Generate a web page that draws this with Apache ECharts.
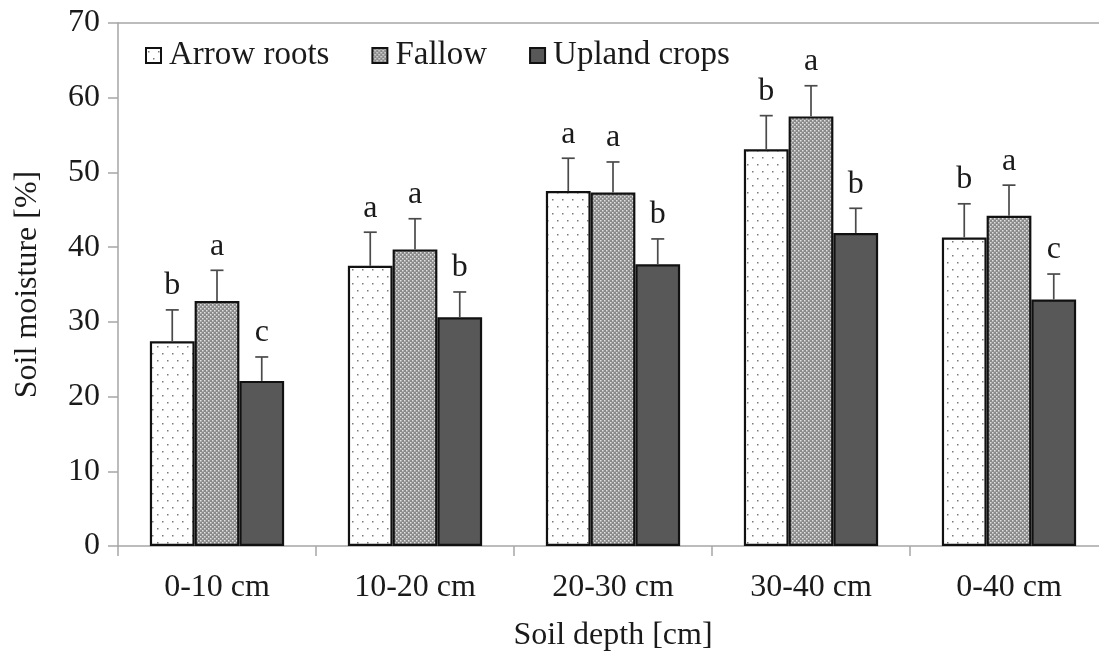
<!DOCTYPE html>
<html>
<head>
<meta charset="utf-8">
<script src="https://cdn.jsdelivr.net/npm/echarts@6/dist/echarts.min.js"></script>
<style>
  html, body { margin: 0; padding: 0; background: #ffffff; }
  #chart { width: 1099px; height: 651px; }
</style>
</head>
<body>
<div id="chart"></div>
<script>
// Soil moisture by depth under three land uses (mean + SD, letters = significance groups)
const categories = ['0-10 cm', '10-20 cm', '20-30 cm', '30-40 cm', '0-40 cm'];
const seriesNames = ['Arrow roots', 'Fallow', 'Upland crops'];

const arrowRoots = [27.4, 37.5, 47.5, 53.1, 41.3];
const fallow = [32.8, 39.7, 47.3, 57.5, 44.2];
const uplandCrops = [22.1, 30.6, 37.7, 41.9, 33.0];

const arrowRootsSd = [4.2, 4.5, 4.4, 4.5, 4.5];
const fallowSd = [4.1, 4.1, 4.1, 4.1, 4.1];
const uplandCropsSd = [3.2, 3.4, 3.4, 3.3, 3.4];

const arrowRootsLetters = ['b', 'a', 'a', 'b', 'b'];
const fallowLetters = ['a', 'a', 'a', 'a', 'a'];
const uplandCropsLetters = ['c', 'b', 'b', 'b', 'c'];

const yMin = 0, yMax = 70, yStep = 10;

const FONT = '"Liberation Serif", "Times New Roman", serif';
const FONT_SIZE = 32;
const BAR_FRACTION = 0.226; // share of the category band taken by each bar

// sparse dotted fill
function dotPattern() {
  const c = document.createElement('canvas');
  c.width = 10; c.height = 14;
  const g = c.getContext('2d');
  g.fillStyle = '#ffffff';
  g.fillRect(0, 0, 10, 14);
  g.fillStyle = '#7a7a7a';
  g.fillRect(2, 3, 1.5, 1.5);
  g.fillRect(7, 10, 1.5, 1.5);
  return c;
}
// dense checkered grey fill
function checkPattern() {
  const c = document.createElement('canvas');
  c.width = 4; c.height = 4;
  const g = c.getContext('2d');
  g.fillStyle = '#8a8a8a';
  g.fillRect(0, 0, 4, 4);
  g.fillStyle = '#e2e2e2';
  g.fillRect(0, 0, 1.5, 1.5);
  g.fillRect(2, 2, 1.5, 1.5);
  return c;
}

const fills = [
  { image: dotPattern(), repeat: 'repeat' },
  { image: checkPattern(), repeat: 'repeat' },
  '#585858'
];
const values = [arrowRoots, fallow, uplandCrops];
const sds = [arrowRootsSd, fallowSd, uplandCropsSd];
const letters = [arrowRootsLetters, fallowLetters, uplandCropsLetters];

const barSeries = seriesNames.map((name, i) => ({
  name,
  type: 'bar',
  data: values[i],
  barWidth: (BAR_FRACTION * 100) + '%',
  barGap: '0%',
  itemStyle: { color: fills[i], borderColor: '#111111', borderWidth: 2.2 },
  emphasis: { disabled: true },
  z: 2
}));

const errorSeries = seriesNames.map((name, i) => ({
  type: 'custom',
  name: name + ' SD',
  data: categories.map((c, k) => [k, values[i][k], sds[i][k]]),
  encode: { x: 0, y: 1 },
  z: 3,
  silent: true,
  renderItem: function (params, api) {
    const k = api.value(0);
    const v = api.value(1);
    const sd = api.value(2);
    const letter = letters[i][k];
    const band = api.size([1, 0])[0];
    const x = api.coord([k, 0])[0] + (i - 1) * band * BAR_FRACTION;
    const yTop = api.coord([k, v])[1];
    const yCap = api.coord([k, v + sd])[1];
    const lineStyle = { stroke: '#4a4a4a', lineWidth: 1.7 };
    return {
      type: 'group',
      children: [
        { type: 'line', shape: { x1: x, y1: yTop, x2: x, y2: yCap }, style: lineStyle },
        { type: 'line', shape: { x1: x - 6.5, y1: yCap, x2: x + 6.5, y2: yCap }, style: lineStyle },
        { type: 'text', x: x, y: yCap - 8,
          style: { text: letter, fill: '#1a1a1a', font: FONT_SIZE + 'px ' + FONT, align: 'center', verticalAlign: 'bottom' } }
      ]
    };
  }
}));

const axisGrey = '#a6a6a6';

const option = {
  backgroundColor: '#ffffff',
  animation: false,
  grid: { left: 118, top: 23, width: 990, height: 523, containLabel: false, outerBoundsMode: 'none' },
  legend: {
    data: seriesNames,
    left: 140, top: 34,
    icon: 'rect',
    itemWidth: 15, itemHeight: 15,
    itemGap: 42,
    selectedMode: false,
    textStyle: { fontFamily: FONT, fontSize: 33, color: '#1a1a1a', padding: [0, 0, 0, 3] }
  },
  xAxis: [
    {
      type: 'category',
      data: categories,
      name: 'Soil depth [cm]',
      nameLocation: 'middle',
      nameGap: 74,
      nameTextStyle: { fontFamily: FONT, fontSize: FONT_SIZE, color: '#1a1a1a' },
      axisLine: { lineStyle: { color: axisGrey, width: 1.5 } },
      axisTick: { show: true, length: 10, lineStyle: { color: axisGrey, width: 1.5 } },
      axisLabel: { fontFamily: FONT, fontSize: FONT_SIZE, color: '#1a1a1a', margin: 26 },
      splitLine: { show: false }
    },
    {
      type: 'category',
      data: categories,
      position: 'top',
      axisLine: { show: true, lineStyle: { color: axisGrey, width: 1.5 } },
      axisTick: { show: false },
      axisLabel: { show: false },
      splitLine: { show: false }
    }
  ],
  yAxis: {
    type: 'value',
    min: yMin, max: yMax, interval: yStep,
    name: 'Soil moisture [%]',
    nameLocation: 'middle',
    nameGap: 74,
    nameRotate: 90,
    nameTextStyle: { fontFamily: FONT, fontSize: FONT_SIZE, color: '#1a1a1a' },
    axisLine: { show: true, lineStyle: { color: axisGrey, width: 1.5 } },
    axisTick: { show: true, length: 10, lineStyle: { color: axisGrey, width: 1.5 } },
    axisLabel: { fontFamily: FONT, fontSize: FONT_SIZE, color: '#1a1a1a', margin: 18 },
    splitLine: { show: false }
  },
  series: barSeries.concat(errorSeries)
};

const chart = echarts.init(document.getElementById('chart'), null, { renderer: 'canvas' });
chart.setOption(option);
</script>
</body>
</html>
